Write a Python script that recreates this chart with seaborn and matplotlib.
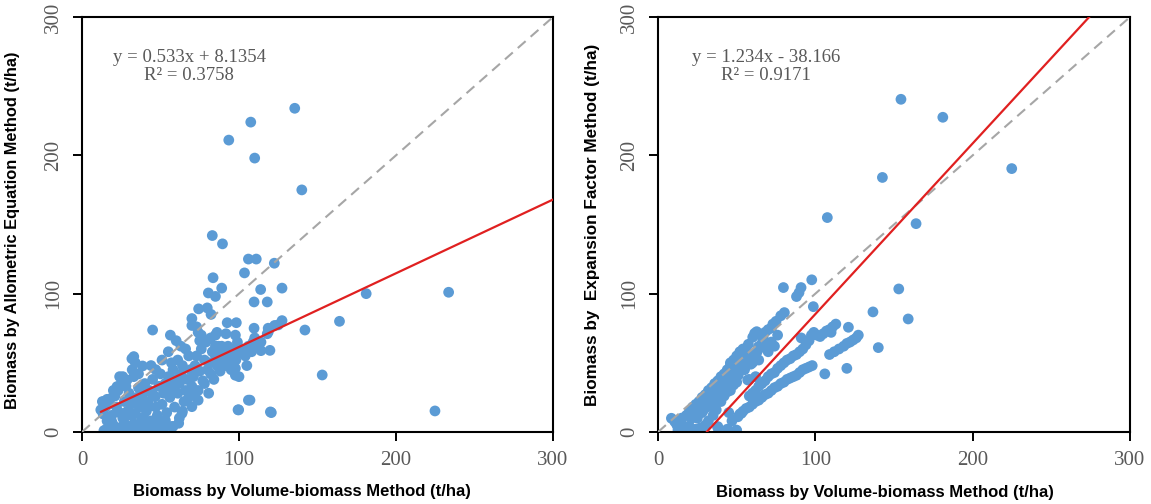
import matplotlib
matplotlib.use("Agg")
import matplotlib.pyplot as plt
import numpy as np
import pandas as pd
import seaborn as sns

# ---------------------------------------------------------------------------
# Plot data: biomass estimates per plot (t/ha)
# ---------------------------------------------------------------------------
# Volume-biomass method (x) vs. allometric equation method (y)
allo_x = [
    135.5, 107.5, 93.5, 110, 140, 83, 89.5, 106, 111, 122.5, 103.5, 83.5, 89, 80.5, 85,
    113.8, 127.4, 109.6, 118, 181, 233.5, 74.3, 79.8, 70, 82.2, 92.5, 98.3, 127.4, 164,
    122.7, 109.6, 118.6, 142, 45, 153, 224.8, 120, 99.4, 106, 119.7, 114, 118.7, 125,
    56.3, 60, 70, 73, 76, 85, 91.7, 97.7, 118, 85, 89, 94.5, 96.6, 97.7, 97.7, 109, 114,
    31.8, 33, 38.6, 26, 28.7, 33, 22.3, 20, 16, 13, 12, 13.5,
    15, 17, 14, 18, 19, 16, 20, 18, 14,
    21, 23, 25, 22, 24, 26, 27, 28, 23, 26, 29, 30, 28, 24,
    31, 32, 33, 34, 35, 36, 37, 38, 39, 36, 40, 32, 34, 38, 31,
    41, 42, 43, 44, 45, 46, 47, 48, 49, 42, 46, 50, 44, 47, 49,
    51, 52, 53, 54, 55, 56, 57, 58, 59, 51, 55, 53, 58, 60, 57, 52,
    61, 62, 63, 64, 65, 66, 67, 68, 69, 62, 64, 66, 70, 68, 61, 63,
    71, 72, 73, 74, 75, 76, 77, 78, 79, 72, 75, 80, 78, 74,
    81, 82, 83, 84, 85, 86, 87, 88, 89, 82, 86, 90,
    91, 92, 93, 94, 95, 96, 98, 99, 100,
    102, 104, 106, 108, 110, 112, 105, 100,
    46.7, 42.5, 36, 25.5, 19, 14.9, 107, 99.8, 120.6, 38, 31.8, 27.6, 34, 42.5, 46.7,
    53, 57.3, 51, 44.6, 61.6, 57, 50, 63.7, 70, 74, 80.7, 53, 40,
]
allo_y = [
    234, 224, 211, 198, 175, 142, 136, 125, 125, 122, 115, 111.5, 104, 100.5, 98,
    103, 104, 94, 94, 100, 101, 89, 89.7, 82, 85, 79, 79, 80.5, 80,
    77, 75, 75, 73.7, 73.7, 41.2, 15.2, 14.5, 16, 23, 59, 65, 72.5, 77.4,
    70, 66, 77, 76, 70, 70, 71, 70, 71, 62, 62, 59, 54.5, 46, 41, 65, 58.8,
    53, 54.5, 47.7, 40, 37.6, 40, 32.8, 30, 23.6, 22, 16, 13,
    18, 20, 22, 24, 12, 8, 5, 2, 1,
    26, 30, 35, 18, 14, 10, 22, 5, 2, 0.5, 15, 28, 33, 40,
    20, 12, 6, 2, 25, 32, 18, 10, 28, 42, 35, 45, 50, 4, 1,
    15, 22, 30, 8, 38, 26, 18, 12, 33, 3, 1, 42, 48, 45, 5,
    20, 28, 35, 14, 40, 25, 32, 45, 18, 52, 58, 8, 4, 38, 50, 3,
    28, 35, 42, 48, 22, 30, 38, 55, 45, 10, 15, 60, 33, 25, 52, 62,
    40, 48, 55, 30, 44, 60, 37, 52, 65, 28, 66, 45, 35, 72,
    50, 42, 58, 38, 55, 48, 62, 44, 52, 68, 72, 58,
    48, 55, 62, 50, 45, 60, 52, 65, 57,
    60, 55, 62, 58, 68, 62, 48, 40,
    8.7, 3.9, 1.4, 3.9, 7.5, 1.4, 23, 16, 14, 23, 20.7, 11, 13.5, 18.3, 25.5,
    30, 35, 32.8, 28, 6.3, 3.9, 1.4, 13.5, 18.3, 23, 28, 8.7, 8.7,
]

# Volume-biomass method (x) vs. expansion factor method (y)
bef_x = [
    154.4, 181, 224.8, 142.6, 107.6, 164, 153, 159, 136.6, 140, 120, 106,
    79.7, 90.9, 89.6, 88, 97.7, 98.7, 80.3, 72.2, 62.7, 60.2, 57.4, 55.9, 56.4, 50, 46, 44,
    67, 63.8, 61.4, 53, 48.7, 44.5, 40, 36, 31.8, 25.4, 21.2, 14.8, 10.6, 8.5,
    12, 15, 18, 20, 22, 24, 26, 28, 30, 32, 34, 36, 38, 40, 42, 44, 46, 48, 50, 52, 54,
    25, 28, 30, 33, 35, 38, 41, 43, 45, 47, 49, 51, 53, 55, 58, 40, 42, 44, 46, 48, 50,
    37, 35, 32, 30, 27, 24, 20, 16, 13, 38, 44, 50, 53, 50.8, 47, 45,
    12.7, 19, 27.5, 38, 44.5, 49.8,
    58, 60, 62, 64, 66, 68, 70, 72, 74, 76, 78, 80, 82, 84, 86, 88, 90, 92, 94, 96,
    97.5, 99, 101, 103, 105, 107, 109, 111, 113, 110, 91, 98,
    52, 54, 56, 58, 60, 62, 64, 66, 68, 70, 72, 74, 76, 78, 80, 82, 84, 86, 88, 90,
    92, 94, 96, 98, 109, 112, 115, 118, 120, 122, 124, 126, 127.3, 121,
    65, 68, 70, 75, 78, 73, 66, 69, 72, 76, 60, 63, 52, 56, 60, 64, 58, 62, 57,
    33, 36, 39, 42, 29, 26, 23, 47, 51, 55, 59, 70, 74,
]
bef_y = [
    240.5, 227.5, 190.4, 184, 155, 150.6, 103.4, 81.7, 86.8, 61, 46, 42,
    104.4, 104.4, 100.7, 97.9, 110, 90.6, 86.3, 75.4, 72.5, 68.5, 63.4, 60, 56.9, 50.9, 48.4, 41.2,
    67, 61.7, 71.3, 49.6, 40, 32.8, 28, 23, 18.3, 13.5, 9.9, 8.7, 7.5, 9.9,
    5, 10, 12, 15, 18, 20, 22, 25, 27, 30, 32, 35, 37, 40, 42, 45, 50, 52, 55, 58, 60,
    10, 14, 18, 22, 26, 30, 34, 38, 36, 44, 46, 48, 52, 54, 56, 22, 26, 29, 30, 34, 36,
    16, 12, 8, 5, 3, 2, 4, 2, 1, 3, 2, 1, 13.5, 11, 8, 14,
    1.4, 3.9, 1.4, 3.9, 1.4, 1.4,
    26, 28, 30, 33, 35, 37, 40, 42, 43, 46, 48, 50, 52, 53, 55, 56, 58, 60, 63, 66,
    70, 72, 70, 69, 71, 73, 74, 76, 78, 72, 68, 70,
    13, 15, 17, 18, 20, 22, 23, 25, 27, 28, 30, 32, 33, 35, 36, 38, 39, 40, 41, 43,
    45, 46, 47, 48, 56, 58, 60, 62, 64, 65, 66.5, 68, 70, 75.7,
    70, 72, 74, 80, 84, 78, 64, 60, 65, 70, 55, 58, 46, 48, 50, 52, 38, 40, 37.6,
    20, 24, 28, 31, 16, 14, 11, 38, 41, 45, 49, 58, 62,
]

# Linear fits reported on each panel
allo_fit = (0.533, 8.1354, "y = 0.533x + 8.1354", "R² = 0.3758")
bef_fit = (1.234, -38.166, "y = 1.234x - 38.166", "R² = 0.9171")

ticks = [0, 100, 200, 300]
x_label = "Biomass by Volume-biomass Method (t/ha)"
allo_label = "Biomass by Allometric Equation Method (t/ha)"
bef_label = "Biomass by  Expansion Factor Method (t/ha)"

# ---------------------------------------------------------------------------
sns.set_style("ticks")
plt.rcParams["font.family"] = ["Liberation Sans", "DejaVu Sans"]

POINT = "#5B9BD5"
FIT = "#E02020"
REF = "#A6A6A6"
GREY_TXT = "#595959"
SERIF = ["Liberation Serif", "DejaVu Serif"]

fig = plt.figure(figsize=(11.51, 5.04), dpi=100)
ax1 = fig.add_axes([0.0712, 0.1429, 0.4093, 0.8234])
ax2 = fig.add_axes([0.5717, 0.1429, 0.4101, 0.8234])

panels = [
    (ax1, allo_x, allo_y, allo_fit, allo_label, 11.8, (-0.132, 0.485)),
    (ax2, bef_x, bef_y, bef_fit, bef_label, 12.3, (-0.123, 0.50)),
]

for ax, xs, ys, fit, ylab, ylab_size, ylab_pos in panels:
    df = pd.DataFrame({"x": xs, "y": ys})
    sns.scatterplot(data=df, x="x", y="y", ax=ax, color=POINT, s=60,
                    linewidth=0, edgecolor="none", zorder=2)

    # 1:1 reference line
    ax.plot(ticks[::3], ticks[::3], color=REF, lw=1.5, ls=(0, (5, 3.2)), zorder=3)

    # fitted regression line
    slope, icpt, eq_txt, r2_txt = fit
    x0 = max(df["x"].min(), -icpt / slope)
    xx = np.array([x0, 300.0])
    ax.plot(xx, slope * xx + icpt, color=FIT, lw=1.6, zorder=4)

    ax.text(0.228, 0.903, eq_txt, transform=ax.transAxes, ha="center", va="center",
            fontsize=13.5, color=GREY_TXT, family=SERIF)
    ax.text(0.228, 0.860, r2_txt, transform=ax.transAxes, ha="center", va="center",
            fontsize=13.5, color=GREY_TXT, family=SERIF)

    ax.set_xlim(0, 300)
    ax.set_ylim(0, 300)
    ax.set_xticks(ticks)
    ax.set_yticks(ticks)
    ax.set_xticklabels([str(t) for t in ticks], family=SERIF, fontsize=15, color=GREY_TXT)
    ax.set_yticklabels([str(t) for t in ticks], family=SERIF, fontsize=15, color=GREY_TXT,
                       rotation=90, va="center")
    ax.tick_params(axis="both", direction="out", length=6.5, width=1.4, color="black", pad=7)

    for sp in ax.spines.values():
        sp.set_visible(True)
        sp.set_linewidth(1.5)
        sp.set_color("black")

    ax.set_xlabel(x_label, fontsize=12.0, fontweight="bold", color="black")
    ax.set_ylabel(ylab, fontsize=ylab_size, fontweight="bold", color="black")
    ax.yaxis.set_label_coords(*ylab_pos)

ax1.xaxis.set_label_coords(0.466, -0.125)
ax2.xaxis.set_label_coords(0.481, -0.128)

fig.savefig("out.png", dpi=100)
